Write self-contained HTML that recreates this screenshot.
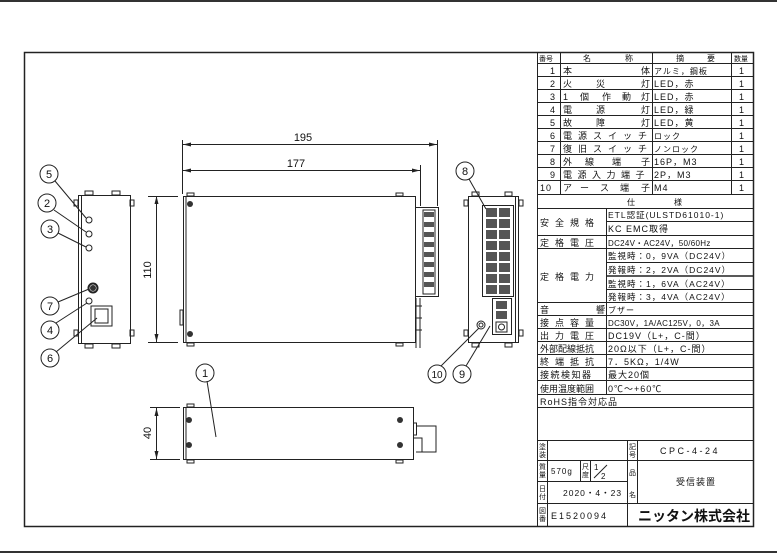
<!DOCTYPE html>
<html><head><meta charset="utf-8"><style>
html,body{margin:0;padding:0;background:#fff;}
svg{display:block;}
text{font-family:"Liberation Sans","Noto Sans CJK JP",sans-serif;fill:#111;}
.t{font-size:9px;letter-spacing:1px;}
.s{font-size:8px;}
</style></head><body>
<svg width="777" height="553" viewBox="0 0 777 553" xmlns="http://www.w3.org/2000/svg">
<rect x="0" y="0" width="777" height="2" fill="#333"/>
<rect x="0" y="551" width="777" height="2" fill="#333"/>
<rect x="24.5" y="52.5" width="729" height="474" fill="none" stroke="#222" stroke-width="1.5"/>

<g stroke="#222" fill="none" stroke-width="1">
<!-- table outer -->
<line x1="537.5" y1="52" x2="537.5" y2="527"/>
<!-- parts table -->
<line x1="560.5" y1="52" x2="560.5" y2="194"/>
<line x1="652.5" y1="52" x2="652.5" y2="194"/>
<line x1="731.5" y1="52" x2="731.5" y2="194"/>
<line x1="537" y1="63.5" x2="754" y2="63.5"/>
<line x1="537" y1="76.5" x2="754" y2="76.5"/>
<line x1="537" y1="89.5" x2="754" y2="89.5"/>
<line x1="537" y1="102.5" x2="754" y2="102.5"/>
<line x1="537" y1="115.5" x2="754" y2="115.5"/>
<line x1="537" y1="128.5" x2="754" y2="128.5"/>
<line x1="537" y1="141.5" x2="754" y2="141.5"/>
<line x1="537" y1="154.5" x2="754" y2="154.5"/>
<line x1="537" y1="167.5" x2="754" y2="167.5"/>
<line x1="537" y1="180.5" x2="754" y2="180.5"/>
<line x1="537" y1="194.5" x2="754" y2="194.5"/>
<!-- spec -->
<line x1="537" y1="208.5" x2="754" y2="208.5"/>
<line x1="606.5" y1="208" x2="606.5" y2="395"/>
<line x1="606" y1="221.5" x2="754" y2="221.5"/>
<line x1="537" y1="235.5" x2="754" y2="235.5"/>
<line x1="537" y1="248.5" x2="754" y2="248.5"/>
<line x1="606" y1="262.5" x2="754" y2="262.5"/>
<line x1="606" y1="276" x2="754" y2="276" stroke-width="1.5"/>
<line x1="606" y1="289.5" x2="754" y2="289.5"/>
<line x1="537" y1="302.5" x2="754" y2="302.5"/>
<line x1="537" y1="315.5" x2="754" y2="315.5"/>
<line x1="537" y1="328.5" x2="754" y2="328.5"/>
<line x1="537" y1="341.5" x2="754" y2="341.5"/>
<line x1="537" y1="354.5" x2="754" y2="354.5"/>
<line x1="537" y1="367.5" x2="754" y2="367.5"/>
<line x1="537" y1="380.5" x2="754" y2="380.5"/>
<line x1="537" y1="394.5" x2="754" y2="394.5"/>
<line x1="537" y1="407.5" x2="754" y2="407.5"/>
<!-- title block -->
<line x1="537" y1="440.5" x2="754" y2="440.5"/>
<line x1="537" y1="460.5" x2="754" y2="460.5"/>
<line x1="537" y1="481.5" x2="628" y2="481.5"/>
<line x1="537" y1="503.5" x2="754" y2="503.5"/>
<line x1="547.5" y1="440" x2="547.5" y2="527"/>
<line x1="627.5" y1="440" x2="627.5" y2="527"/>
<line x1="637.5" y1="440" x2="637.5" y2="503"/>
<line x1="580.5" y1="460" x2="580.5" y2="481"/>
<line x1="590.5" y1="460" x2="590.5" y2="481"/>
<line x1="594" y1="478" x2="607" y2="465"/>
</g>

<!-- parts table text -->
<g class="s">
<text x="539" y="61" font-size="7">番号</text>
<text x="583" y="61">名</text><text x="625" y="61">称</text>
<text x="676" y="61">摘</text><text x="707" y="61">要</text>
<text x="734" y="61" font-size="7">数量</text>
</g>
<g class="t">
<text x="550" y="74">1</text><text x="563" y="74">本</text><text x="641" y="74">体</text><text x="654" y="74" font-size="8">アルミ，鋼板</text>
<text x="550" y="87">2</text><text x="563" y="87">火</text><text x="596" y="87">災</text><text x="641" y="87">灯</text><text x="654" y="87">LED，赤</text>
<text x="550" y="100">3</text><text x="563" y="100">1</text><text x="580" y="100">個</text><text x="602" y="100">作</text><text x="622" y="100">動</text><text x="641" y="100">灯</text><text x="654" y="100">LED，赤</text>
<text x="550" y="113">4</text><text x="563" y="113">電</text><text x="596" y="113">源</text><text x="641" y="113">灯</text><text x="654" y="113">LED，緑</text>
<text x="550" y="126">5</text><text x="563" y="126">故</text><text x="596" y="126">障</text><text x="641" y="126">灯</text><text x="654" y="126">LED，黄</text>
<text x="550" y="139">6</text><text x="563" y="139" letter-spacing="6">電源スイッチ</text><text x="654" y="139" font-size="8">ロック</text>
<text x="550" y="152">7</text><text x="563" y="152" letter-spacing="6">復旧スイッチ</text><text x="654" y="152" font-size="8">ノンロック</text>
<text x="550" y="165">8</text><text x="563" y="165">外</text><text x="585" y="165">線</text><text x="612" y="165">端</text><text x="641" y="165">子</text><text x="654" y="165">16P，M3</text>
<text x="550" y="178">9</text><text x="563" y="178" letter-spacing="5.5">電源入力端子</text><text x="654" y="178">2P，M3</text>
<text x="540" y="191">10</text><text x="563" y="191">ア</text><text x="580" y="191">ー</text><text x="600" y="191">ス</text><text x="620" y="191">端</text><text x="641" y="191">子</text><text x="654" y="191">M4</text>
</g>
<g class="t" text-anchor="middle">
<text x="742" y="74">1</text><text x="742" y="87">1</text><text x="742" y="100">1</text><text x="742" y="113">1</text><text x="742" y="126">1</text><text x="742" y="139">1</text><text x="742" y="152">1</text><text x="742" y="165">1</text><text x="742" y="178">1</text><text x="742" y="191">1</text>
</g>
<!-- spec text -->
<g class="t">
<text x="627" y="205" font-size="8">仕</text><text x="674" y="205" font-size="8">様</text>
<text x="540" y="226" letter-spacing="6">安全規格</text>
<text x="608" y="218" font-size="8.5">ETL認証(ULSTD61010-1)</text>
<text x="608" y="232">KC EMC取得</text>
<text x="540" y="246" letter-spacing="6">定格電圧</text>
<text x="608" y="246" font-size="8" letter-spacing="0.3">DC24V・AC24V，50/60Hz</text>
<text x="540" y="280" letter-spacing="6">定格電力</text>
<text x="608" y="259" font-size="8.5">監視時：0，9VA（DC24V）</text>
<text x="608" y="273" font-size="8.5">発報時：2，2VA（DC24V）</text>
<text x="608" y="287" font-size="8.5">監視時：1，6VA（AC24V）</text>
<text x="608" y="300" font-size="8.5">発報時：3，4VA（AC24V）</text>
<text x="540" y="313">音</text><text x="596" y="313">響</text><text x="608" y="313" font-size="8">ブザー</text>
<text x="540" y="326" letter-spacing="6">接点容量</text><text x="608" y="326" font-size="8" letter-spacing="0.3">DC30V，1A/AC125V，0，3A</text>
<text x="540" y="339" letter-spacing="6">出力電圧</text><text x="608" y="339">DC19V（L+，C-間）</text>
<text x="540" y="352" letter-spacing="0">外部配線抵抗</text><text x="608" y="352">20Ω以下（L+，C-間）</text>
<text x="540" y="365" letter-spacing="6">終端抵抗</text><text x="608" y="365">7．5KΩ，1/4W</text>
<text x="540" y="378" letter-spacing="1.5">接続検知器</text><text x="608" y="378">最大20個</text>
<text x="540" y="392" letter-spacing="0">使用温度範囲</text><text x="608" y="392">0℃～+60℃</text>
<text x="540" y="405">RoHS指令対応品</text>
</g>
<!-- title block text -->
<g style="font-size:7px">
<text x="539" y="449">塗</text><text x="539" y="457">装</text>
<text x="539" y="469">質</text><text x="539" y="477">量</text>
<text x="539" y="491">日</text><text x="539" y="499">付</text>
<text x="539" y="513">図</text><text x="539" y="521">番</text>
<text x="582" y="469">尺</text><text x="582" y="477">度</text>
<text x="629" y="449">記</text><text x="629" y="457">号</text>
<text x="629" y="475">品</text><text x="629" y="497">名</text>
</g>
<g class="t">
<text x="551" y="474" font-size="8">570g</text>
<text x="594" y="470" font-size="8">1</text><text x="601" y="479" font-size="8">2</text>
<text x="563" y="496" font-size="8.5">2020・4・23</text>
<text x="551" y="519" letter-spacing="2">E1520094</text>
<text x="660" y="454" letter-spacing="2.5">CPC-4-24</text>
<text x="676" y="485">受信装置</text>
<text x="638" y="521" font-size="14" font-weight="bold" letter-spacing="0">ニッタン株式会社</text>
</g>

<!-- DRAWINGS -->
<g stroke="#222" fill="none" stroke-width="1">
<!-- front view -->
<rect x="78.5" y="195.5" width="52" height="148"/>
<line x1="81.5" y1="195" x2="81.5" y2="343"/>
<rect x="85" y="191" width="8" height="4"/><rect x="112" y="191" width="8" height="4"/>
<rect x="85" y="344" width="8" height="4"/><rect x="112" y="344" width="8" height="4"/>
<rect x="74" y="200" width="4" height="6"/><rect x="130" y="200" width="4" height="6"/>
<rect x="74" y="330" width="4" height="6"/><rect x="130" y="330" width="4" height="6"/>
<circle cx="89" cy="220" r="3"/><circle cx="89" cy="234" r="3"/><circle cx="89" cy="248" r="3"/>
<circle cx="93" cy="288" r="4.5" stroke-width="2"/>
<circle cx="89" cy="301" r="3"/>
<rect x="91" y="306" width="21" height="20"/><rect x="95" y="309" width="13" height="14"/>
<!-- leaders -->
<line x1="55" y1="181" x2="86" y2="218"/>
<line x1="54" y1="210" x2="86" y2="232"/>
<line x1="58" y1="233" x2="86" y2="247"/>
<line x1="58" y1="302" x2="89" y2="289"/>
<line x1="56" y1="323" x2="87" y2="303"/>
<line x1="56" y1="352" x2="97" y2="318"/>
<circle cx="49" cy="174" r="9"/><circle cx="47" cy="203" r="9"/><circle cx="50" cy="229" r="9"/>
<circle cx="50" cy="306" r="9"/><circle cx="50" cy="330" r="9"/><circle cx="50" cy="358" r="9"/>
<!-- 110 dim -->
<line x1="156.5" y1="196" x2="156.5" y2="342"/>
<line x1="148" y1="196.5" x2="178" y2="196.5"/>
<line x1="148" y1="342.5" x2="178" y2="342.5"/>
<!-- main side view -->
<rect x="183.5" y="196.5" width="232" height="146"/>
<line x1="186" y1="196" x2="186" y2="342"/>
<rect x="187" y="193" width="7" height="3"/><rect x="396" y="193" width="7" height="3"/>
<rect x="187" y="343" width="7" height="3"/><rect x="396" y="343" width="7" height="3"/>
<rect x="180" y="310" width="3" height="15"/>
<rect x="415.5" y="207.5" width="23" height="89"/>
<rect x="423" y="210" width="12" height="84"/>
<path d="M416 298v50M420 298v50M416 306h6M416 318h6M416 330h6"/>
<!-- 195/177 dims -->
<line x1="182.5" y1="140" x2="182.5" y2="194"/>
<line x1="437.5" y1="140" x2="437.5" y2="206"/>
<line x1="420.5" y1="165" x2="420.5" y2="206"/>
<line x1="183" y1="144.5" x2="437" y2="144.5"/>
<line x1="183" y1="170.5" x2="420" y2="170.5"/>
<!-- right view -->
<rect x="468.5" y="196.5" width="50" height="146"/>
<line x1="515.5" y1="196" x2="515.5" y2="342"/>
<rect x="472" y="192" width="7" height="4"/><rect x="505" y="192" width="7" height="4"/>
<rect x="472" y="343" width="7" height="4"/><rect x="505" y="343" width="7" height="4"/>
<rect x="464" y="200" width="4" height="6"/><rect x="519" y="200" width="4" height="6"/>
<rect x="464" y="330" width="4" height="6"/><rect x="519" y="330" width="4" height="6"/>
<rect x="482.5" y="205.5" width="31" height="91"/>
<rect x="492.5" y="298.5" width="19" height="36"/>
<rect x="496" y="322" width="11" height="10"/><circle cx="501.5" cy="327" r="3"/>
<circle cx="481" cy="325" r="4"/><circle cx="481" cy="325" r="2"/>
<line x1="469" y1="179" x2="486" y2="209"/>
<line x1="441" y1="366" x2="479" y2="328"/>
<line x1="466" y1="366" x2="490" y2="326"/>
<circle cx="465" cy="171" r="9"/><circle cx="437" cy="374" r="9"/><circle cx="462" cy="374" r="9"/>
<!-- bottom view -->
<rect x="183.5" y="407.5" width="230" height="52"/>
<line x1="186" y1="407" x2="186" y2="460"/>
<rect x="187" y="404" width="7" height="3"/><rect x="187" y="460" width="7" height="3"/><rect x="396" y="460" width="7" height="3"/>
<rect x="413.5" y="423" width="3" height="12"/>
<path d="M416 426h20v26h-20M414 438h8v14"/>
<line x1="156.5" y1="408" x2="156.5" y2="459"/>
<line x1="150" y1="407.5" x2="180" y2="407.5"/>
<line x1="150" y1="459.5" x2="180" y2="459.5"/>
<line x1="207" y1="381" x2="216" y2="437"/>
<circle cx="205" cy="373" r="9"/>
</g>
<!-- screws -->
<g fill="#333">
<circle cx="190" cy="204" r="3"/><circle cx="190" cy="334" r="3"/>
<circle cx="189" cy="420" r="3"/><circle cx="189" cy="445" r="3"/>
<circle cx="400" cy="420" r="3"/><circle cx="400" cy="445" r="3"/>
<circle cx="93" cy="288" r="3"/>
</g>
<!-- terminal blocks -->
<g fill="#555">
<rect x="424" y="212" width="10" height="5"/><rect x="424" y="222" width="10" height="5"/><rect x="424" y="232" width="10" height="5"/><rect x="424" y="242" width="10" height="5"/><rect x="424" y="252" width="10" height="5"/><rect x="424" y="262" width="10" height="5"/><rect x="424" y="272" width="10" height="5"/><rect x="424" y="282" width="10" height="5"/>
<rect x="486" y="208" width="11" height="9"/><rect x="499" y="208" width="11" height="9"/>
<rect x="486" y="219" width="11" height="9"/><rect x="499" y="219" width="11" height="9"/>
<rect x="486" y="230" width="11" height="9"/><rect x="499" y="230" width="11" height="9"/>
<rect x="486" y="241" width="11" height="9"/><rect x="499" y="241" width="11" height="9"/>
<rect x="486" y="252" width="11" height="9"/><rect x="499" y="252" width="11" height="9"/>
<rect x="486" y="263" width="11" height="9"/><rect x="499" y="263" width="11" height="9"/>
<rect x="486" y="274" width="11" height="9"/><rect x="499" y="274" width="11" height="9"/>
<rect x="486" y="285" width="11" height="9"/><rect x="499" y="285" width="11" height="9"/>
<rect x="496" y="301" width="11" height="8"/><rect x="496" y="311" width="11" height="8"/>
</g>
<!-- arrowheads -->
<g fill="#222">
<path d="M183 144.5l8-2v4z"/><path d="M437 144.5l-8-2v4z"/>
<path d="M183 170.5l8-2v4z"/><path d="M420 170.5l-8-2v4z"/>
<path d="M156.5 196l-2 8h4z"/><path d="M156.5 342l-2-8h4z"/>
<path d="M156.5 408l-2 8h4z"/><path d="M156.5 459l-2-8h4z"/>
</g>
<g style="font-size:11px" text-anchor="middle">
<text x="303" y="141">195</text>
<text x="296" y="167">177</text>
<text transform="translate(151,270) rotate(-90)">110</text>
<text transform="translate(151,433) rotate(-90)">40</text>
<text x="49" y="178">5</text><text x="47" y="207">2</text><text x="50" y="233">3</text>
<text x="50" y="310">7</text><text x="50" y="334">4</text><text x="50" y="362">6</text>
<text x="465" y="175">8</text><text x="437" y="378" style="font-size:10px">10</text><text x="462" y="378">9</text>
<text x="205" y="377">1</text>
</g>
</svg>
</body></html>
